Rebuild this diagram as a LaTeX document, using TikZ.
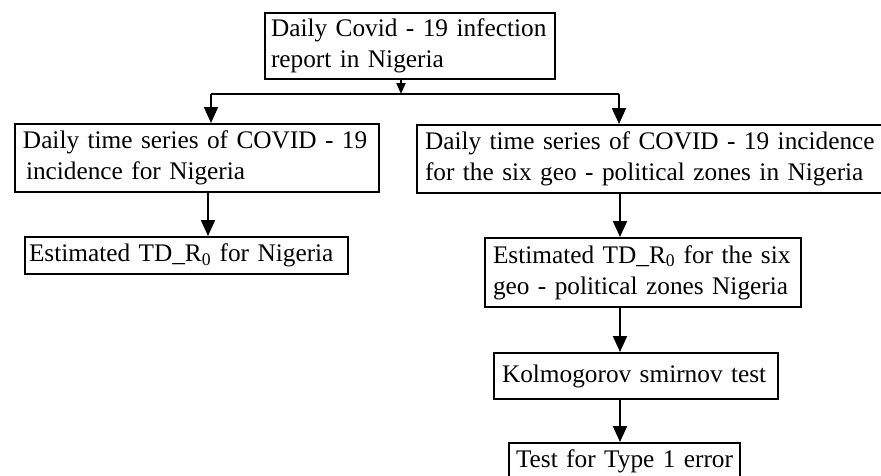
\documentclass[tikz,border=0pt]{standalone}
\usepackage{fontspec}
\setmainfont{Liberation Serif}
\usetikzlibrary{arrows.meta}
\newcommand\oneline[1]{\mbox{#1}}
\begin{document}
\begin{tikzpicture}[x=1pt,y=-1pt,
  box/.style={draw, line width=2pt, anchor=north west, inner ysep=0pt,
    align=left, font=\fontsize{25.3}{31}\selectfont},
  arr/.style={line width=2pt, -{Triangle[length=16pt,width=14pt]}},
  smallarr/.style={line width=2pt, -{Triangle[length=11pt,width=9pt]}},
  link/.style={line width=2pt}]
\useasboundingbox (0,0) rectangle (881,475);
% boxes: minimum height, inner xsep = pad, text width = W - 2 pad
\node[box, inner xsep=6pt, text width=278pt, minimum height=66pt] (top) at (264,12)
  {\oneline{Daily Covid - 19 infection}\\\oneline{report in Nigeria}};
\node[box, inner xsep=8pt, text width=348pt, minimum height=68pt] (L1) at (14,123)
  {\oneline{Daily time series of COVID - 19}\\\oneline{\hspace{3pt}incidence for Nigeria}};
\node[box, inner xsep=4pt, text width=315pt, minimum height=37pt] (L2) at (24,236)
  {\oneline{Estimated TD\_R\textsubscript{0} for Nigeria}};
\node[box, inner xsep=8pt, text width=452pt, minimum height=68pt] (R1) at (416,124)
  {\oneline{Daily time series of COVID - 19 incidence}\\\oneline{for the six geo - political zones in Nigeria}};
\node[box, inner xsep=8pt, text width=300pt, minimum height=69pt] (R2) at (484,237)
  {\oneline{Estimated TD\_R\textsubscript{0} for the six}\\\oneline{geo - political zones Nigeria}};
\node[box, inner xsep=8pt, text width=268pt, minimum height=46pt] (R3) at (493,352)
  {\oneline{Kolmogorov smirnov test}};
\node[box, inner xsep=7pt, text width=217pt, minimum height=36pt] (R4) at (508,442)
  {\oneline{Test for Type 1 error}};
% junction
\coordinate (j) at (401,94);
\coordinate (jl) at (211,94);
\coordinate (jr) at (619,94);
\draw[smallarr] (top.south -| j) -- (j);
\draw[link] (jl) -- (jr);
\draw[arr] (jl) -- (L1.north -| jl);
\draw[arr] (jr) -- (R1.north -| jr);
\coordinate (cl) at (208,0);
\coordinate (cr) at (620,0);
\draw[arr] (L1.south -| cl) -- (L2.north -| cl);
\draw[arr] (R1.south -| cr) -- (R2.north -| cr);
\draw[arr] (R2.south -| cr) -- (R3.north -| cr);
\draw[arr] (R3.south -| cr) -- (R4.north -| cr);
\end{tikzpicture}
\end{document}
